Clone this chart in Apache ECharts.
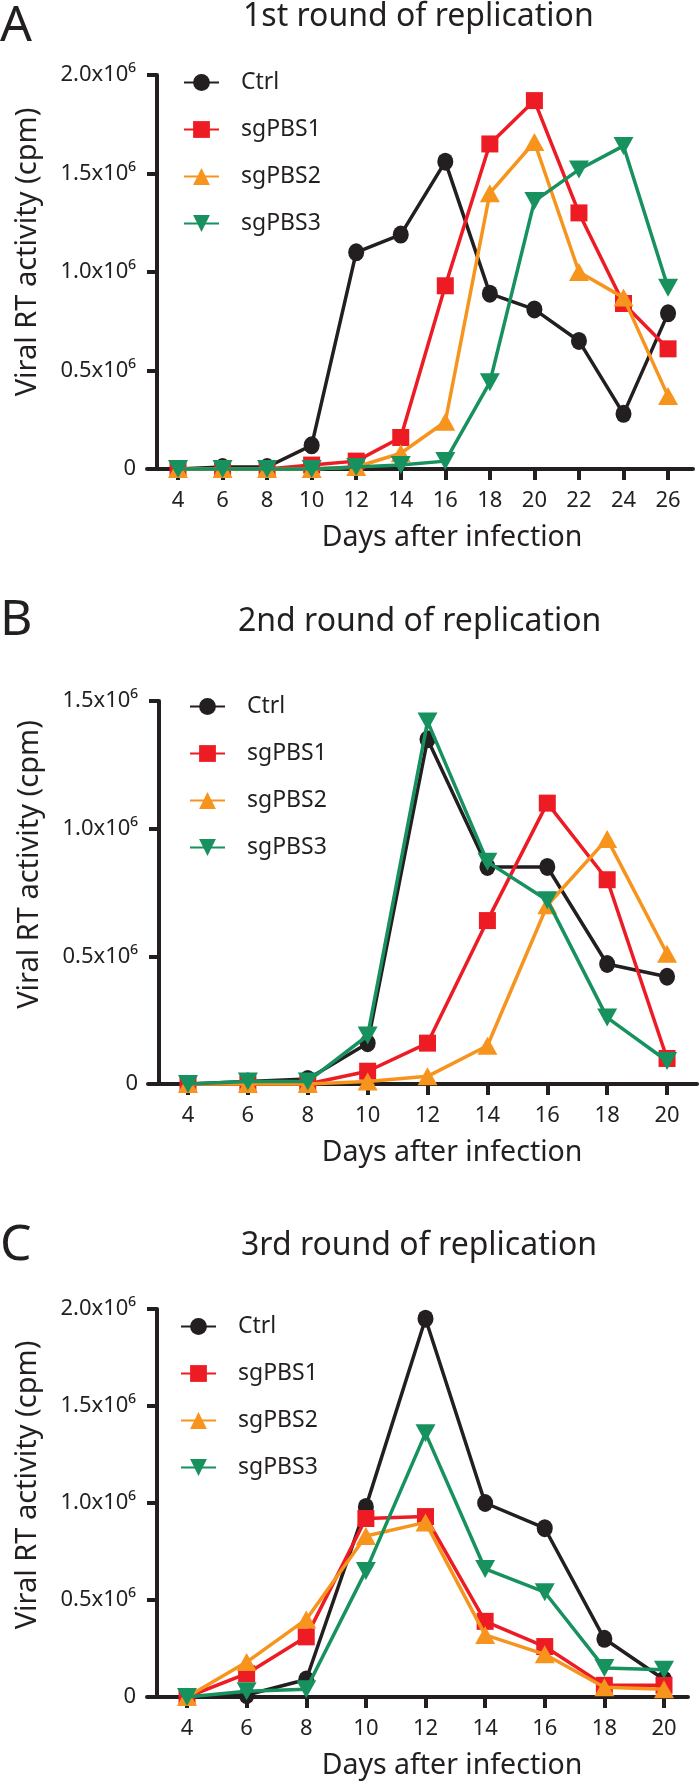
<!DOCTYPE html>
<html><head><meta charset="utf-8">
<script src="https://cdn.jsdelivr.net/npm/echarts@6/dist/echarts.min.js"></script>
<style>html,body{margin:0;padding:0;background:#fff}#c{width:700px;height:1786px}</style>
</head><body><div id="c"></div>
<script>
// ---------- data (values in units of 10^6 cpm) ----------
const seriesNames = ['Ctrl', 'sgPBS1', 'sgPBS2', 'sgPBS3'];

const daysA = [4, 6, 8, 10, 12, 14, 16, 18, 20, 22, 24, 26];
const ctrlA = [0.00, 0.01, 0.01, 0.12, 1.10, 1.19, 1.56, 0.89, 0.81, 0.65, 0.28, 0.79];
const sg1A  = [0.00, 0.00, 0.00, 0.02, 0.04, 0.16, 0.93, 1.65, 1.87, 1.30, 0.84, 0.61];
const sg2A  = [0.00, 0.00, 0.00, 0.00, 0.01, 0.08, 0.24, 1.40, 1.66, 1.00, 0.87, 0.37];
const sg3A  = [0.00, 0.00, 0.00, 0.00, 0.01, 0.02, 0.04, 0.44, 1.36, 1.52, 1.64, 0.92];

const daysB = [4, 6, 8, 10, 12, 14, 16, 18, 20];
const ctrlB = [0.00, 0.01, 0.02, 0.16, 1.35, 0.85, 0.85, 0.47, 0.42];
const sg1B  = [0.00, 0.00, 0.00, 0.05, 0.16, 0.64, 1.10, 0.80, 0.10];
const sg2B  = [0.00, 0.00, 0.00, 0.01, 0.03, 0.15, 0.70, 0.96, 0.51];
const sg3B  = [0.00, 0.01, 0.01, 0.19, 1.42, 0.87, 0.72, 0.26, 0.09];

const daysC = [4, 6, 8, 10, 12, 14, 16, 18, 20];
const ctrlC = [0.00, 0.01, 0.09, 0.98, 1.95, 1.00, 0.87, 0.30, 0.09];
const sg1C  = [0.00, 0.12, 0.31, 0.92, 0.93, 0.39, 0.26, 0.06, 0.06];
const sg2C  = [0.00, 0.18, 0.40, 0.83, 0.90, 0.32, 0.22, 0.05, 0.04];
const sg3C  = [0.00, 0.03, 0.04, 0.65, 1.36, 0.66, 0.54, 0.15, 0.14];

const yTicksAC = [0, 0.5, 1.0, 1.5, 2.0];
const yTicksB  = [0, 0.5, 1.0, 1.5];
const yTickLabels = ['0', '0.5x10⁶', '1.0x10⁶', '1.5x10⁶', '2.0x10⁶'];

const panelLetters = ['A', 'B', 'C'];
const panelTitles = ['1st round of replication', '2nd round of replication', '3rd round of replication'];
const xAxisTitle = 'Days after infection';
const yAxisTitle = 'Viral RT activity (cpm)';

// ---------- styles / layout ----------
const INK = '#231f20';
const FONT = '"Noto Sans", "DejaVu Sans", sans-serif';
const colors = [INK, '#ed1c24', '#f7941d', '#17925f'];
const symbols = ['circle', 'rect', 'triangle', 'triangle'];
const symbolRot = [0, 0, 0, 180];
const symbolSizes = [[16, 18], 17, [20, 18], [20, 18]];

const panels = [
  { days: daysA, data: [ctrlA, sg1A, sg2A, sg3A], yTicks: yTicksAC,
    grid: { left: 147, top: 75, width: 546, height: 394 }, xMin: 2.608, xMax: 27.12, yOff: -10,
    legendLeft: 183, legendTop: 71, titleLeft: 243, titleTop: 1, letterTop: 2, yNamePad: 40, xNamePad: 64 },
  { days: daysB, data: [ctrlB, sg1B, sg2B, sg3B], yTicks: yTicksB,
    grid: { left: 148, top: 701, width: 549, height: 383 }, xMin: 2.664, xMax: 21.0, yOff: -11,
    legendLeft: 189, legendTop: 695, titleLeft: 238, titleTop: 606, letterTop: 596, yNamePad: 56, xNamePad: 59 },
  { days: daysC, data: [ctrlC, sg1C, sg2C, sg3C], yTicks: yTicksAC,
    grid: { left: 147, top: 1309, width: 541, height: 388 }, xMin: 2.658, xMax: 20.805, yOff: -10,
    legendLeft: 180, legendTop: 1315, titleLeft: 241, titleTop: 1230, letterTop: 1221, yNamePad: 36, xNamePad: 69 }
];

const axisLineStyle = { color: INK, width: 4 };

const option = {
  animation: false,
  backgroundColor: '#fff',
  title: [],
  legend: [],
  grid: [],
  xAxis: [],
  yAxis: [],
  series: []
};

panels.forEach((p, pi) => {
  option.title.push({
    text: panelLetters[pi], left: 0, top: p.letterTop, padding: 0,
    textStyle: { fontSize: 50, fontWeight: 'normal', color: INK, fontFamily: FONT }
  });
  option.title.push({
    text: panelTitles[pi], left: p.titleLeft, top: p.titleTop, padding: 0,
    textStyle: { fontSize: 32, fontWeight: 'normal', color: INK, fontFamily: FONT }
  });
  option.grid.push(Object.assign({ containLabel: false }, p.grid));
  option.xAxis.push({
    gridIndex: pi, type: 'value', min: p.xMin, max: p.xMax,
    axisLine: { show: true, onZero: false, lineStyle: axisLineStyle },
    axisTick: { show: true, customValues: p.days, length: 11, lineStyle: axisLineStyle },
    axisLabel: { customValues: p.days, margin: 21, fontSize: 22, color: INK, fontFamily: FONT },
    splitLine: { show: false },
    name: xAxisTitle, nameLocation: 'middle', nameGap: 54,
    nameTextStyle: { fontSize: 28.5, color: INK, fontFamily: FONT, padding: [0, 0, 0, p.xNamePad] }
  });
  const yMax = p.yTicks[p.yTicks.length - 1];
  option.yAxis.push({
    gridIndex: pi, type: 'value', min: 0, max: yMax, interval: 0.5, offset: p.yOff,
    axisLine: { show: true, onZero: false, lineStyle: axisLineStyle },
    axisTick: { show: true, length: 10, lineStyle: axisLineStyle },
    axisLabel: {
      margin: 21, fontSize: 22, color: INK, fontFamily: FONT,
      formatter: v => { const k = p.yTicks.findIndex(t => Math.abs(t - v) < 1e-9); return k >= 0 ? yTickLabels[k] : ''; }
    },
    splitLine: { show: false },
    name: yAxisTitle, nameLocation: 'middle', nameGap: 115, nameRotate: 90,
    nameTextStyle: { fontSize: 29, color: INK, fontFamily: FONT, padding: [0, 0, 0, p.yNamePad] }
  });
  option.legend.push({
    data: seriesNames, orient: 'vertical', left: p.legendLeft, top: p.legendTop, padding: 0,
    itemWidth: 35, itemHeight: 21, itemGap: 24,
    textStyle: { fontSize: 23, color: INK, fontFamily: FONT, padding: [0, 0, 0, 17] }
  });
  p.data.forEach((vals, si) => {
    option.series.push({
      type: 'line', name: seriesNames[si], xAxisIndex: pi, yAxisIndex: pi,
      data: p.days.map((d, k) => [d, vals[k]]),
      symbol: symbols[si], symbolSize: symbolSizes[si], symbolRotate: symbolRot[si],
      showAllSymbol: true, clip: false,
      lineStyle: { width: 3.5, color: colors[si] },
      itemStyle: { color: colors[si], borderWidth: 0 },
      z: 2 + si
    });
  });
});

const chart = echarts.init(document.getElementById('c'), null, { renderer: 'canvas' });
chart.setOption(option);
</script>
</body></html>
